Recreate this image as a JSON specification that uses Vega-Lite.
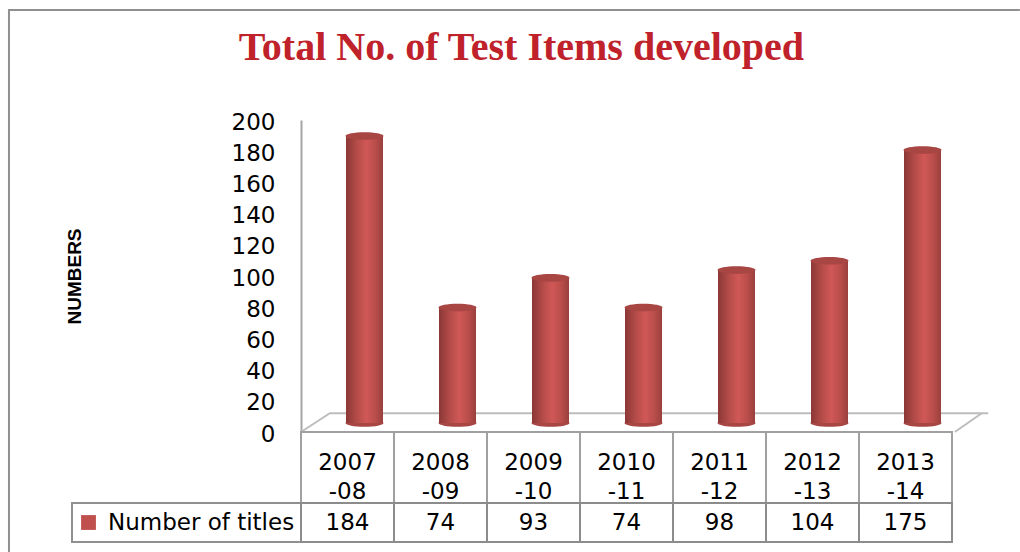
{
"$schema":"https://vega.github.io/schema/vega-lite/v6.json",
"background":"white",
"padding":{"left":4,"top":6,"right":0,"bottom":0},
"title":{"text":"Total No. of Test Items developed","font":"Liberation Serif","fontWeight":"bold","fontSize":40,"color":"#c0222b","anchor":"middle","dx":7,"offset":-62},
"datasets":{
"main":[
{"year":"2007-08","label":"2007\n-08","value":184,"series":"Number of titles"},
{"year":"2008-09","label":"2008\n-09","value":74,"series":"Number of titles"},
{"year":"2009-10","label":"2009\n-10","value":93,"series":"Number of titles"},
{"year":"2010-11","label":"2010\n-11","value":74,"series":"Number of titles"},
{"year":"2011-12","label":"2011\n-12","value":98,"series":"Number of titles"},
{"year":"2012-13","label":"2012\n-13","value":104,"series":"Number of titles"},
{"year":"2013-14","label":"2013\n-14","value":175,"series":"Number of titles"}],
"floor":[
{"fx":0,"fy":0,"order":1,"part":"left"},{"fx":0.31,"fy":12,"order":2,"part":"left"},{"fx":7.39,"fy":12,"order":3,"part":"left"},
{"fx":7.03,"fy":0,"order":1,"part":"right"},{"fx":7.32,"fy":12,"order":2,"part":"right"}],
"frame":[{"fx":-3.14,"fy":-77,"order":1},{"fx":-3.14,"fy":270.5,"order":2},{"fx":7.73,"fy":270.5,"order":3}],
"one":[{"a":1}]
},
"concat":[
{"width":229,"height":312,"data":{"name":"one"},"mark":{"type":"rect","fill":"transparent"}},
{"width":651,"height":312,"layer":[
{"data":{"name":"frame"},"mark":{"type":"line","stroke":"#909090","strokeWidth":2,"clip":false},
"encoding":{"x":{"field":"fx","type":"quantitative","scale":{"domain":[0,7],"nice":false,"zero":false},"axis":null},
"y":{"field":"fy","type":"quantitative","scale":{"domain":[0,200],"nice":false},"axis":{"title":"NUMBERS","titleFont":"Liberation Sans","titleFontWeight":"bold","titleFontSize":19,"titleColor":"#000","titlePadding":147,"tickCount":11,"labelOverlap":false,"labelBound":false,"labelFlush":false,"labelOffset":2,"grid":false,"ticks":false,"labelPadding":26,"labelFont":"DejaVu Sans","labelFontSize":23,"labelColor":"#000","domainColor":"#a6a6a6","domainWidth":2}},
"order":{"field":"order","type":"ordinal"}}},
{"data":{"name":"floor"},"mark":{"type":"line","stroke":"#bdbdbd","strokeWidth":2,"clip":false},
"encoding":{"x":{"field":"fx","type":"quantitative","scale":{"domain":[0,7],"nice":false,"zero":false},"axis":null},
"y":{"field":"fy","type":"quantitative"},"detail":{"field":"part"},"order":{"field":"order","type":"ordinal"}}},
{"data":{"name":"main"},"layer":[
{"mark":{"type":"point","filled":true,"opacity":1,"size":1444,"shape":"M-1,0A1,0.2,0,1,1,1,0A1,0.2,0,1,1,-1,0Z","color":"#a84644","xOffset":17,"yOffset":-9},
"encoding":{"x":{"field":"year","type":"nominal","axis":null,"scale":{"type":"band","padding":0}},"y":{"datum":0,"type":"quantitative"}}},
{"mark":{"type":"bar","size":37,"xOffset":17,"yOffset":-9,"y2Offset":-9},
"encoding":{"x":{"field":"year","type":"nominal","axis":null,"scale":{"type":"band","padding":0}},"y":{"field":"value","type":"quantitative"},
"color":{"field":"series","type":"nominal","scale":{"range":["#c0504d"]},"legend":{"title":null,"orient":"none","legendX":-224,"legendY":391,"symbolType":"square","symbolSize":220,"symbolStrokeWidth":0,"labelFont":"DejaVu Sans","labelFontSize":23,"labelColor":"#000","labelOffset":8,"labelLimit":220}}}},
{"mark":{"type":"bar","size":37,"xOffset":17,"yOffset":-9,"y2Offset":-9,"fill":{"gradient":"linear","x1":0,"x2":1,"y1":0,"y2":0,"stops":[{"offset":0,"color":"#8a3836"},{"offset":0.3,"color":"#b54c49"},{"offset":0.55,"color":"#d05856"},{"offset":0.8,"color":"#b84d4a"},{"offset":1,"color":"#9a403d"}]}},
"encoding":{"x":{"field":"year","type":"nominal","axis":null,"scale":{"type":"band","padding":0}},"y":{"field":"value","type":"quantitative"}}},
{"mark":{"type":"point","filled":true,"opacity":1,"size":1444,"shape":"M-1,0A1,0.2,0,1,1,1,0A1,0.2,0,1,1,-1,0Z","color":"#a84644","xOffset":17,"yOffset":-9},
"encoding":{"x":{"field":"year","type":"nominal","axis":null,"scale":{"type":"band","padding":0}},"y":{"field":"value","type":"quantitative"}}}
]}
],"resolve":{"scale":{"x":"independent"}}},
{"width":229,"height":71,"data":{"name":"one"},"mark":{"type":"rect","fill":"transparent"}},
{"width":651,"height":71,"data":{"name":"main"},"encoding":{"x":{"field":"year","type":"nominal","axis":null,"scale":{"type":"band","padding":0}}},"layer":[
{"mark":{"type":"rect","fill":"white","stroke":"#a0a0a0","strokeWidth":2}},
{"mark":{"type":"text","font":"DejaVu Sans","fontSize":23,"color":"#000","lineBreak":"\n","lineHeight":29,"dy":-5},"encoding":{"text":{"field":"label"}}}
]},
{"width":229,"height":39,"data":{"name":"one"},"mark":{"type":"rect","fill":"transparent","stroke":"#909090","strokeWidth":2}},
{"width":651,"height":39,"data":{"name":"main"},"encoding":{"x":{"field":"year","type":"nominal","axis":null,"scale":{"type":"band","padding":0}}},"layer":[
{"mark":{"type":"rect","fill":"white","stroke":"#8c8c8c","strokeWidth":2}},
{"mark":{"type":"text","font":"DejaVu Sans","fontSize":23,"color":"#000"},"encoding":{"text":{"field":"value","type":"quantitative"}}}
]}
],
"columns":2,
"spacing":0,
"bounds":"flush",
"resolve":{"scale":{"x":"independent","y":"independent","color":"independent"}},
"config":{"view":{"stroke":null}}
}
